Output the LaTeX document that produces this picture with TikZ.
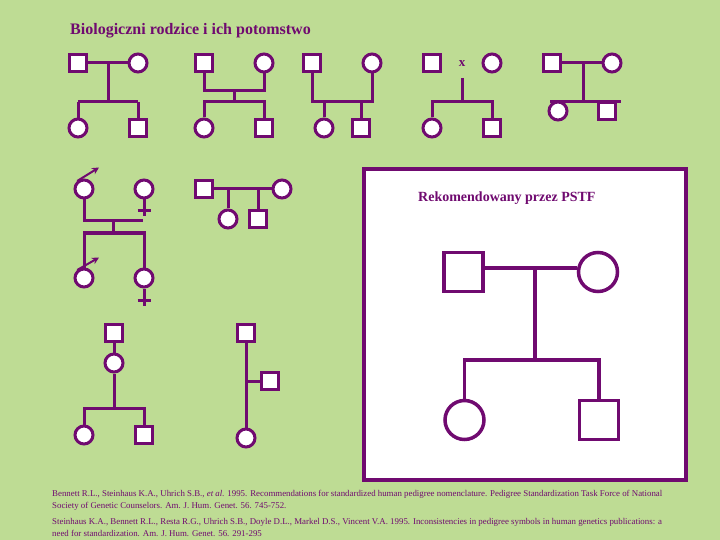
\documentclass[tikz,border=0pt]{standalone}
\usepackage{fontspec}
\setmainfont{Liberation Serif}
\usetikzlibrary{arrows.meta}
\definecolor{bg}{RGB}{190,220,148}
\definecolor{pur}{RGB}{112,10,112}
\tikzset{
  sq/.style={draw=pur, fill=white, line width=3pt, minimum size=17pt, inner sep=0pt},
  ci/.style={circle, draw=pur, fill=white, line width=3pt, minimum size=18pt, inner sep=0pt},
  bsq/.style={draw=pur, fill=white, line width=3.5pt, minimum size=39pt, inner sep=0pt},
  bci/.style={circle, draw=pur, fill=white, line width=3.5pt, minimum size=39pt, inner sep=0pt},
  ln/.style={draw=pur, line width=3pt},
  bln/.style={draw=pur, line width=3.5pt},
  arr/.style={draw=pur, line width=2pt, -{Stealth[length=7pt,width=7pt]}},
  ref/.style={anchor=west, text=pur, font=\fontsize{8.85}{10}\selectfont, inner sep=0pt},
}
\begin{document}
\begin{tikzpicture}[x=1pt,y=-1pt]
\fill[bg] (0,0) rectangle (720,540);
\useasboundingbox (0,0) rectangle (720,540);
\node[anchor=west, text=pur, font=\fontsize{16}{18}\selectfont\bfseries, inner sep=0pt] (title) at (70,31) {Biologiczni rodzice i ich potomstwo};

% pedigree 1
\coordinate (p1m) at (108,63); \coordinate (p1s) at (108,102);
\coordinate (p1l) at (78,102); \coordinate (p1r) at (138,102);
\draw[ln] (p1m) -- (p1s);
\draw[ln] (p1l) -- (p1r);
\draw[ln] (78,63) -- (138,63);
\draw[ln] (p1l) -- (78,128); \draw[ln] (p1r) -- (138,128);
\node[sq] (a1) at (78,63) {};
\node[ci] (a2) at (138,63) {};
\node[ci] (a3) at (78,128) {};
\node[sq] (a4) at (138,128) {};

% pedigree 2
\node[sq] (b1) at (204,63) {};
\node[ci] (b2) at (264,63) {};
\node[ci] (b3) at (204,128) {};
\node[sq] (b4) at (264,128) {};
\coordinate (b1d) at (204,91); \coordinate (b2d) at (264,91);
\coordinate (b5) at (234,91); \coordinate (b6) at (234,102);
\coordinate (b3u) at (204,102); \coordinate (b4u) at (264,102);
\draw[ln] (b1) -- (b1d) -- (b2d) -- (b2);
\draw[ln] (b5) -- (b6);
\draw[ln] (b3) -- (b3u) -- (b4u) -- (b4);

% pedigree 3
\node[sq] (c1) at (312,63) {};
\node[ci] (c2) at (372,63) {};
\node[ci] (c3) at (324,128) {};
\node[sq] (c4) at (361,128) {};
\coordinate (c1d) at (312,102); \coordinate (c2d) at (372,102);
\draw[ln] (c1) -- (c1d) -- (c2d) -- (c2);
\draw[ln] (c3) -- (c3 |- c1d);
\draw[ln] (c4) -- (c4 |- c1d);

% pedigree 4
\node[sq] (d1) at (432,63) {};
\node[text=pur, font=\fontsize{13}{14}\selectfont\bfseries, inner sep=0pt] (dx) at (462,64) {x};
\node[ci] (d2) at (492,63) {};
\node[ci] (d3) at (432,128) {};
\node[sq] (d4) at (492,128) {};
\coordinate (d5) at (462,78); \coordinate (d6) at (462,102);
\coordinate (d3u) at (432,102); \coordinate (d4u) at (492,102);
\draw[ln] (d5) -- (d6);
\draw[ln] (d3) -- (d3u) -- (d4u) -- (d4);

% pedigree 5
\node[sq] (e1) at (552,63) {};
\node[ci] (e2) at (612,63) {};
\coordinate (e5) at (583,63); \coordinate (e6) at (583,102);
\coordinate (e7) at (550,102); \coordinate (e8) at (621,102);
\draw[ln] (e1) -- (e2);
\draw[ln] (e5) -- (e6);
\draw[ln] (e7) -- (e8);
\node[ci] (e3) at (558,111) {};
\node[sq] (e4) at (607,111) {};

% pedigree 6
\node[ci] (f1) at (84,189) {};
\node[ci] (f2) at (144,189) {};
\node[ci] (f3) at (84,278) {};
\node[ci] (f4) at (144,278) {};
\coordinate (f1a) at (99,167.5);
\coordinate (f3a) at (99,257.5);
\draw[arr] (f1.130) -- (f1a);
\draw[arr] (f3.130) -- (f3a);
\coordinate (f2b) at (144,216); \coordinate (f2c) at (137.5,211); \coordinate (f2d) at (150.5,211);
\coordinate (f4b) at (144,306); \coordinate (f4c) at (137.5,300); \coordinate (f4d) at (150.5,300);
\draw[ln] (f2) -- (f2b); \draw[ln] (f2c) -- (f2d);
\draw[ln] (f4) -- (f4b); \draw[ln] (f4c) -- (f4d);
\coordinate (f5) at (84,221); \coordinate (f6) at (143,221);
\coordinate (f7) at (113,221); \coordinate (f8) at (113,233);
\coordinate (f9) at (84,233); \coordinate (f10) at (144,233);
\draw[ln] (f1) -- (f5) -- (f6);
\draw[ln] (f7) -- (f8);
\draw[ln] (f3) -- (f9) -- (f10) -- (f4);

% pedigree 7
\node[sq] (g1) at (204,189) {};
\node[ci] (g2) at (282,189) {};
\node[ci] (g3) at (228,219) {};
\node[sq] (g4) at (258,219) {};
\draw[ln] (g1) -- (g2);
\draw[ln] (g3) -- (g3 |- g1);
\draw[ln] (g4) -- (g4 |- g1);

% pedigree 8
\node[sq] (h1) at (114,333) {};
\node[ci] (h2) at (114,363) {};
\node[ci] (h3) at (84,435) {};
\node[sq] (h4) at (144,435) {};
\coordinate (h5) at (114,408); \coordinate (h6) at (84,408); \coordinate (h7) at (144,408);
\draw[ln] (h1) -- (h2);
\draw[ln] (h2) -- (h5);
\draw[ln] (h3) -- (h6) -- (h7) -- (h4);

% pedigree 9
\node[sq] (i1) at (246,333) {};
\node[ci] (i2) at (246,438) {};
\node[sq] (i3) at (270,381) {};
\draw[ln] (i1) -- (i2);
\draw[ln] (i3) -- (i3 -| i1);

% PSTF box
\draw[draw=pur, fill=white, line width=4pt] (364,169) rectangle (686,480);
\node[anchor=west, text=pur, font=\fontsize{14}{16}\selectfont\bfseries, inner sep=0pt] (pt) at (418,198) {Rekomendowany przez PSTF};
\node[bsq] (k1) at (463.5,272) {};
\node[bci] (k2) at (598,272) {};
\node[bci] (k3) at (464.5,420) {};
\node[bsq] (k4) at (599,420) {};
\coordinate (k5) at (535,268); \coordinate (k6) at (535,360);
\coordinate (k7) at (464.5,360); \coordinate (k8) at (599,360);
\draw[bln] (k1.east |- k5) -- (k2.west |- k5);
\draw[bln] (k5) -- (k6);
\draw[bln] (k3) -- (k7) -- (k8) -- (k4);

% references
\node[ref] (r1) at (52,494) {Bennett R.L., Steinhaus K.A., Uhrich S.B., \textit{et al.} 1995. Recommendations for standardized human pedigree nomenclature. Pedigree Standardization Task Force of National};
\node[ref] (r2) at (52,506) {Society of Genetic Counselors. Am. J. Hum. Genet. 56. 745-752.};
\node[ref] (r3) at (52,522) {Steinhaus K.A., Bennett R.L., Resta R.G., Uhrich S.B., Doyle D.L., Markel D.S., Vincent V.A. 1995. Inconsistencies in pedigree symbols in human genetics publications: a};
\node[ref] (r4) at (52,533) {need for standardization. Am. J. Hum. Genet. 56. 291-295};
\end{tikzpicture}
\end{document}
